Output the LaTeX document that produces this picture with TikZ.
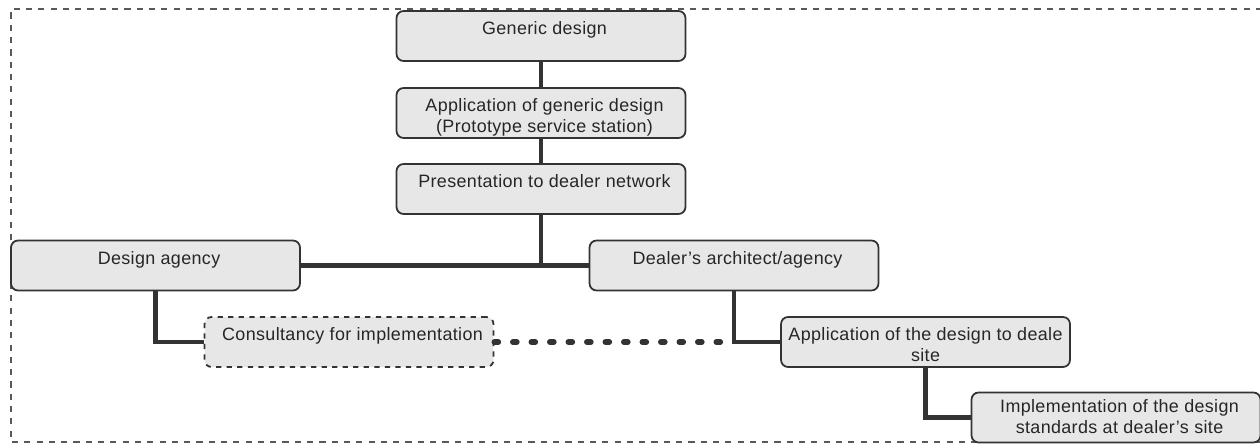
\documentclass[tikz,border=0pt]{standalone}
\usepackage{fontspec}
\setmainfont{Liberation Sans}[LetterSpace=2]
\definecolor{boxgray}{RGB}{230,231,230}
\definecolor{linegray}{RGB}{51,51,51}

\begin{document}
\begin{tikzpicture}[x=0.02cm, y=-0.02cm, font=\fontsize{10.2}{12}\selectfont,
        box/.style = {rectangle, rounded corners=4pt, draw=linegray, line width=1pt, fill=boxgray, minimum width=5.78cm, minimum height=1cm, inner sep=0pt},
        lbl/.style = {anchor=north, align=center, yshift=-3pt, xshift=2pt, text=black!85},
        link/.style = {draw=linegray, line width=2.8pt},
        frame/.style = {draw=black!65, line width=0.8pt, dash pattern=on 3.5pt off 3.5pt}]

        \useasboundingbox (0,0) rectangle (1260,448);
        \draw[frame] (1262,9) -- (11,9) -- (11,442) -- (1262,442);

        \node[box,label={[lbl]north:Generic design}] (gen) at (541,36) {};
        \node[box,label={[lbl]north:Application of generic design\\(Prototype service station)}] (appgen) at (541,113) {};
        \node[box,label={[lbl]north:Presentation to dealer network}] (pres) at (541,189) {};
        \node[box,label={[lbl]north:Design agency}] (agency) at (155.5,265.5) {};
        \node[box,label={[lbl]north:Dealer's architect/agency}] (dealer) at (734,265.5) {};
        \node[box,dashed,label={[lbl]north:Consultancy for implementation}] (consult) at (349,342) {};
        \node[box,label={[lbl,xshift=-2pt]north:Application of the design to deale\\site}] (appdes) at (925.5,342) {};
        \node[box,label={[lbl,yshift=2pt]north:Implementation of the design\\standards at dealer's site}] (impl) at (1116,417.5) {};

        \draw[link] (gen) -- (appgen);
        \draw[link] (appgen) -- (pres);
        \draw[link] (pres) -- (pres |- agency);
        \draw[link] (agency) -- (dealer);
        \draw[link] (agency.south) |- (consult.west);
        \draw[link] (dealer.south) |- (appdes.west);
        \draw[link] (appdes.south) |- (impl.west);
        \draw[link, line width=3.2pt, line cap=round, dash pattern=on 0.08cm off 0.29cm] (consult.east) -- (dealer.south |- consult.east);

\end{tikzpicture}
\end{document}
